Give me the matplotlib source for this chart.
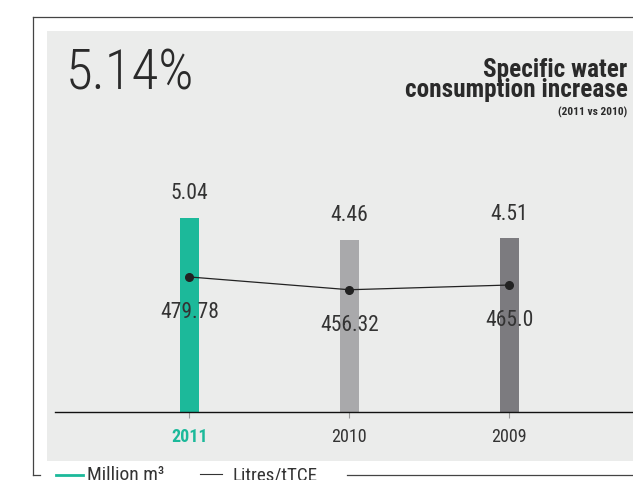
import matplotlib
matplotlib.use('Agg')
import matplotlib.pyplot as plt
from matplotlib import font_manager
from matplotlib.patches import Rectangle
from matplotlib.lines import Line2D

years = ['2011', '2010', '2009']
million_m3 = [5.04, 4.46, 4.51]
litres_ttce = [479.78, 456.32, 465.0]
bar_colors = ['#1cb99a', '#a9a9ab', '#7c7b7f']
year_colors = ['#1cb99a', '#333333', '#333333']

installed = {f.name for f in font_manager.fontManager.ttflist}
fams = [f for f in ['Liberation Sans Narrow', 'Roboto Condensed', 'Open Sans Condensed',
                    'Liberation Sans'] if f in installed]
plt.rcParams['font.family'] = fams[:1] + ['DejaVu Sans']

W, H = 633, 480
fig = plt.figure(figsize=(W / 100, H / 100), dpi=100)
fig.patch.set_facecolor('white')


def fx(x):
    return x / W


def fy(y):
    return 1 - y / H


# grey panel and outer frame
fig.patches.append(Rectangle((fx(47.3), fy(460.5)), fx(633) - fx(47.3), fy(31) - fy(460.5),
                             transform=fig.transFigure, facecolor='#ebeceb', edgecolor='none', zorder=-5))
frame = dict(color='#444444', lw=0.9, transform=fig.transFigure)
fig.lines.append(Line2D([fx(32.7), fx(633)], [fy(16.5), fy(16.5)], **frame))
fig.lines.append(Line2D([fx(32.7), fx(32.7)], [fy(16.5), fy(474.5)], **frame))
fig.lines.append(Line2D([fx(32.7), fx(39.5)], [fy(474.5), fy(474.5)], **frame))
fig.lines.append(Line2D([fx(346.7), fx(633)], [fy(474.5), fy(474.5)], **frame))

# main axes
ax = fig.add_axes([fx(55), fy(411.5), fx(633) - fx(55), fy(100) - fy(411.5)])
ax.set_facecolor('none')
x = range(len(years))
ax.bar(x, million_m3, width=0.119, color=bar_colors, zorder=2)
ax.set_xlim(-0.84, 2.7725)
ax.set_ylim(0, 8.11)
for s in ['top', 'right', 'left']:
    ax.spines[s].set_visible(False)
ax.spines['bottom'].set_color('#111111')
ax.spines['bottom'].set_linewidth(1.0)
ax.spines['bottom'].set_zorder(3)
ax.set_yticks([])
ax.set_xticks(list(x))
ax.set_xticklabels(years, fontsize=13)
ax.tick_params(axis='x', length=4, width=0.8, color='#9a9a9a', pad=8)
for lab, c in zip(ax.get_xticklabels(), year_colors):
    lab.set_color(c)
ax.get_xticklabels()[0].set_fontweight('bold')
ax.xaxis.get_major_ticks()[0].tick1line.set_color('#7fd6c2')

for i, v in enumerate(million_m3):
    ax.annotate(f'{v:.2f}', (i, v), xytext=(0, 13.5), textcoords='offset points',
                ha='center', va='baseline', fontsize=15.5, color='#333333')

ax2 = ax.twinx()
ax2.set_ylim(232.9, 804.5)
ax2.axis('off')
ax2.plot(list(x), litres_ttce, color='#222222', lw=0.9, marker='o', markersize=5.5, zorder=4)
for i, v in enumerate(litres_ttce):
    ax2.annotate(f'{v}', (i, v), xytext=(0, -29.5), textcoords='offset points',
                 ha='center', va='baseline', fontsize=15.5, color='#333333')

# headline texts
fig.text(fx(66), fy(90), '5.14%', fontsize=39.5, fontweight='light', color='#2a2a2a',
         ha='left', va='baseline')
fig.text(fx(627.5), fy(76.7), 'Specific water', fontsize=18.2, fontweight='bold',
         color='#2a2a2a', ha='right', va='baseline')
fig.text(fx(627.5), fy(96.7), 'consumption increase', fontsize=18.2, fontweight='bold',
         color='#2a2a2a', ha='right', va='baseline')
fig.text(fx(627.5), fy(116), '(2011 vs 2010)', fontsize=8.2, fontweight='bold',
         color='#2a2a2a', ha='right', va='baseline')

# legend at the bottom
fig.lines.append(Line2D([fx(56), fx(83)], [fy(474.7), fy(474.7)], color='#1cb99a', lw=2,
                        transform=fig.transFigure))
fig.text(fx(86.7), fy(480.5), 'Million m³', fontsize=14, color='#333333', ha='left', va='baseline')
fig.lines.append(Line2D([fx(200), fx(222)], [fy(474.3), fy(474.3)], color='#333333', lw=0.8,
                        transform=fig.transFigure))
fig.text(fx(233), fy(480.5), 'Litres/tTCE', fontsize=13.7, color='#333333', ha='left', va='baseline')

fig.savefig('out.png', dpi=100)
